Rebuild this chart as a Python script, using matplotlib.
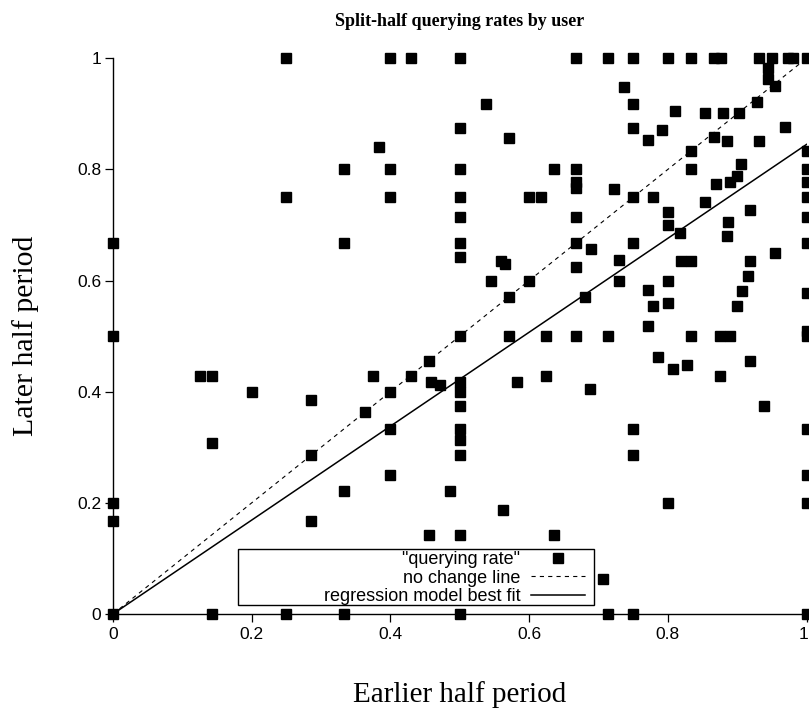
import numpy as np
import matplotlib
import matplotlib.pyplot as plt
from matplotlib.patches import Rectangle
from matplotlib.transforms import ScaledTranslation

matplotlib.use('Agg')

# split-half querying rate per user: earlier half (x) vs later half (y)
earlier = [
    0, 0, 0, 0, 0,
    0.125, 0.143, 0.143, 0.143, 0.2,
    0.25, 0.25, 0.25,
    0.286, 0.286, 0.286,
    0.333, 0.333, 0.333, 0.333,
    0.364, 0.375, 0.384,
    0.4, 0.4, 0.4, 0.4, 0.4, 0.4,
    0.429, 0.429, 0.455, 0.455, 0.458, 0.471, 0.486,
    0.5, 0.5, 0.5, 0.5, 0.5, 0.5, 0.5, 0.5, 0.5, 0.5, 0.5, 0.5, 0.5, 0.5, 0.5, 0.5,
    0.538, 0.545, 0.56, 0.565, 0.5625,
    0.571, 0.571, 0.571, 0.583, 0.6, 0.6, 0.617,
    0.625, 0.625, 0.636, 0.636,
    0.667, 0.667, 0.667, 0.667, 0.667, 0.667, 0.667, 0.667,
    0.68, 0.689, 0.688, 0.707, 0.714, 0.714, 0.714,
    0.723, 0.729, 0.729, 0.737,
    0.75, 0.75, 0.75, 0.75, 0.75, 0.75, 0.75, 0.75,
    0.771, 0.771, 0.772, 0.779, 0.779, 0.786, 0.792,
    0.8, 0.8, 0.8, 0.8, 0.8, 0.8,
    0.808, 0.811, 0.817, 0.819, 0.828,
    0.833, 0.833, 0.833, 0.833, 0.833,
    0.853, 0.854, 0.867, 0.867, 0.870,
    0.876, 0.875, 0.875, 0.879, 0.885, 0.886, 0.887, 0.889, 0.889,
    0.902, 0.9, 0.9, 0.906, 0.907, 0.915, 0.918, 0.918, 0.918,
    0.928, 0.931, 0.931, 0.939, 0.945, 0.945, 0.95, 0.954, 0.954,
    0.969, 0.973, 0.981,
    1, 1, 1, 1, 1, 1, 1, 1, 1, 1, 1, 1, 1, 1,
]
later = [
    0.667, 0.5, 0.2, 0.167, 0,
    0.429, 0.429, 0.308, 0, 0.4,
    1, 0.75, 0,
    0.385, 0.286, 0.167,
    0.8, 0.667, 0.222, 0,
    0.364, 0.429, 0.84,
    1, 0.8, 0.75, 0.4, 0.333, 0.25,
    1, 0.429, 0.455, 0.143, 0.417, 0.412, 0.222,
    1, 0.875, 0.8, 0.75, 0.714, 0.667, 0.643, 0.5, 0.417, 0.4, 0.375, 0.333, 0.3125, 0.286, 0.143, 0,
    0.918, 0.6, 0.635, 0.63, 0.1875,
    0.857, 0.571, 0.5, 0.417, 0.75, 0.6, 0.75,
    0.5, 0.429, 0.8, 0.143,
    1, 0.8, 0.778, 0.767, 0.714, 0.667, 0.625, 0.5,
    0.571, 0.656, 0.404, 0.0625, 1, 0.5, 0,
    0.764, 0.637, 0.6, 0.948,
    1, 0.917, 0.875, 0.75, 0.667, 0.333, 0.286, 0,
    0.583, 0.519, 0.853, 0.75, 0.555, 0.462, 0.871,
    1, 0.724, 0.7, 0.6, 0.559, 0.2,
    0.44, 0.905, 0.685, 0.636, 0.448,
    1, 0.833, 0.8, 0.636, 0.5,
    0.741, 0.902, 1, 0.858, 0.773,
    1, 0.5, 0.429, 0.902, 0.851, 0.68, 0.706, 0.778, 0.5,
    0.902, 0.789, 0.555, 0.809, 0.581, 0.608, 0.727, 0.636, 0.455,
    0.922, 1, 0.852, 0.375, 0.982, 0.963, 1, 0.95, 0.649,
    0.876, 1, 1,
    1, 0.833, 0.8, 0.778, 0.75, 0.714, 0.667, 0.578, 0.51, 0.5, 0.333, 0.25, 0.2, 0,
]

# slope of the regression fit through the origin
fit_slope = 0.845
line_x = np.array([0.0, 1.0])

ticks = [0, 0.2, 0.4, 0.6, 0.8, 1]
tick_labels = ['0', '0.2', '0.4', '0.6', '0.8', '1']

plt.rcParams['font.family'] = 'Liberation Sans'
plt.rcParams['lines.scale_dashes'] = False

fig = plt.figure(figsize=(8.09, 7.10), dpi=100)
ax = fig.add_axes([113 / 809, 96 / 710, 693.5 / 809, 555.7 / 710])

ax.plot(earlier, later, 's', color='black', markersize=6.5, linestyle='none',
        clip_on=False, label='"querying rate"', zorder=3)
ax.plot(line_x, line_x, color='black', lw=0.8, dashes=(3, 3),
        label='no change line')
ax.plot(line_x, fit_slope * line_x, color='black', lw=1.1,
        label='regression model best fit')

ax.set_xlim(0, 1)
ax.set_ylim(0, 1)
ax.set_xticks(ticks)
ax.set_xticklabels(tick_labels)
ax.set_yticks(ticks)
ax.set_yticklabels(tick_labels)
ax.tick_params(direction='out', length=5.5, width=0.9, labelsize=12.5, pad=3)
ax.tick_params(axis='x', pad=4)

# nudge the last x tick label so it stays inside the figure edge
last = ax.get_xticklabels()[-1]
last.set_transform(last.get_transform() + ScaledTranslation(-3 / 100, 0, fig.dpi_scale_trans))

for side in ['top', 'right']:
    ax.spines[side].set_visible(False)
for side in ['left', 'bottom']:
    ax.spines[side].set_linewidth(1.0)

ax.set_xlabel('Earlier half period', family='Liberation Serif', fontsize=21)
ax.xaxis.set_label_coords(0.5, -0.12)
ax.set_ylabel('Later half period', family='Liberation Serif', fontsize=21.5)
ax.yaxis.set_label_coords(-0.107, 0.5)

fig.text(0.5685, 1 - 22 / 710, 'Split-half querying rates by user',
         family='Liberation Serif', weight='bold', fontsize=13,
         ha='center', va='center')

leg = ax.legend(loc='lower right', bbox_to_anchor=(0.681, 0.016),
                frameon=False, markerfirst=False, numpoints=1, fontsize=13,
                handlelength=3.0, handletextpad=0.6, labelspacing=0.08,
                borderaxespad=0, borderpad=0)
ax.add_patch(Rectangle((0.1807, 0.0157), 0.5129, 0.1007, transform=ax.transAxes,
                       fill=False, lw=1.0, edgecolor='black', clip_on=False))

fig.savefig('out.png', dpi=100)
